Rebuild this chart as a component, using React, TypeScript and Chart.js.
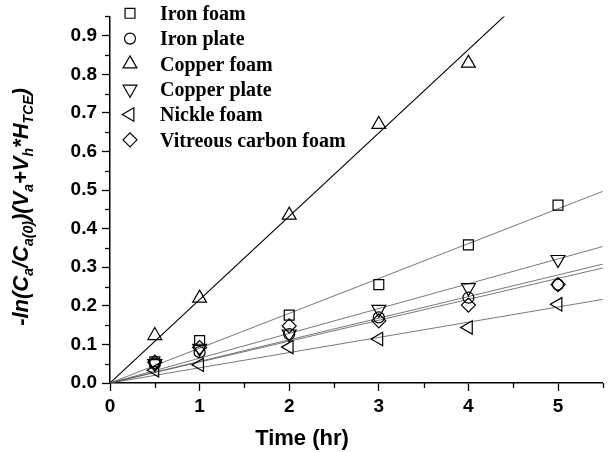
import React, { useEffect, useRef } from 'react';
import { Chart, registerables } from 'chart.js';
import { drawPoint } from 'chart.js/helpers';

Chart.register(...registerables);

// ---------- data ----------
const times = [0.5, 1, 2, 3, 4, 5];
const copperFoamTimes = [0.5, 1, 2, 3, 4];
const seriesNames = ['Iron foam', 'Iron plate', 'Copper foam', 'Copper plate', 'Nickle foam', 'Vitreous carbon foam'];
const ironFoam = [0.055, 0.11, 0.176, 0.255, 0.358, 0.461];
const ironPlate = [0.05, 0.08, 0.127, 0.17, 0.221, 0.255];
const copperFoam = [0.123, 0.22, 0.435, 0.67, 0.829];
const copperPlate = [0.05, 0.09, 0.127, 0.191, 0.247, 0.32];
const nickleFoam = [0.033, 0.047, 0.093, 0.114, 0.144, 0.204];
const vitreousCarbonFoam = [0.054, 0.092, 0.148, 0.161, 0.202, 0.255];
// linear fits through origin (slope per hour)
const fitSlopes = [0.0903, 0.056, 0.216, 0.0643, 0.0394, 0.0542];
const fitRange = [0, 5.5];
const xTickValues = [0, 1, 2, 3, 4, 5];
const xTickLabels = ['0', '1', '2', '3', '4', '5'];
const yTickValues = [0, 0.1, 0.2, 0.3, 0.4, 0.5, 0.6, 0.7, 0.8, 0.9];
const yTickLabels = ['0.0', '0.1', '0.2', '0.3', '0.4', '0.5', '0.6', '0.7', '0.8', '0.9'];
const xMinorTicks = [0.5, 1.5, 2.5, 3.5, 4.5, 5.5];
const yMinorTicks = [0.05, 0.15, 0.25, 0.35, 0.45, 0.55, 0.65, 0.75, 0.85, 0.95];
const xTitle = 'Time (hr)';
const yTitleParts: [string, boolean][] = [
  ['-ln(C', false], ['a', true], ['/C', false], ['a(0)', true], [')(V', false], ['a', true],
  ['+V', false], ['h', true], ['*H', false], ['TCE', true], [')', false],
];

const seriesX = [times, times, copperFoamTimes, times, times, times];
const seriesY = [ironFoam, ironPlate, copperFoam, copperPlate, nickleFoam, vitreousCarbonFoam];

// ---------- styles ----------
const markerStyles = [
  { pointStyle: 'rect', radius: 7, rotation: 0 },
  { pointStyle: 'circle', radius: 5.5, rotation: 0 },
  { pointStyle: 'triangle', radius: 8, rotation: 0 },
  { pointStyle: 'triangle', radius: 8, rotation: 180 },
  { pointStyle: 'triangle', radius: 7.7, rotation: 270 },
  { pointStyle: 'rectRot', radius: 7, rotation: 0 },
];
const fitColors = ['#555', '#555', '#000', '#555', '#555', '#555'];
const fitWidths = [0.8, 0.8, 1.1, 0.8, 0.8, 0.8];
const AXIS_FONT = '"Liberation Sans", Arial, sans-serif';
const LEGEND_FONT = '"Liberation Serif", "Times New Roman", serif';

const decorPlugin = {
  id: 'decor',
  afterDraw(chart: any) {
    const ctx: CanvasRenderingContext2D = chart.ctx;
    const xs = chart.scales.x;
    const ys = chart.scales.y;
    const area = chart.chartArea;
    ctx.save();
    // minor ticks
    ctx.strokeStyle = '#000';
    ctx.lineWidth = 1.3;
    for (const v of yMinorTicks) {
      const py = Math.round(ys.getPixelForValue(v)) + 0.5;
      ctx.beginPath();
      ctx.moveTo(area.left - 5, py);
      ctx.lineTo(area.left, py);
      ctx.stroke();
    }
    for (const v of xMinorTicks) {
      const px = Math.round(xs.getPixelForValue(v)) + 0.5;
      ctx.beginPath();
      ctx.moveTo(px, area.bottom);
      ctx.lineTo(px, area.bottom + 5);
      ctx.stroke();
    }

    // x title
    ctx.fillStyle = '#000';
    ctx.font = `bold 22px ${AXIS_FONT}`;
    ctx.textAlign = 'center';
    ctx.textBaseline = 'alphabetic';
    ctx.fillText(xTitle, 302, 445);

    // y title with subscripts (rotated)
    const bigFont = `italic bold 22px ${AXIS_FONT}`;
    const smallFont = `italic bold 14px ${AXIS_FONT}`;
    let total = 0;
    for (const [t, sub] of yTitleParts) {
      ctx.font = sub ? smallFont : bigFont;
      total += ctx.measureText(t).width;
    }
    ctx.save();
    ctx.translate(28, 207);
    ctx.rotate(-Math.PI / 2);
    ctx.textAlign = 'left';
    let cx = -total / 2;
    for (const [t, sub] of yTitleParts) {
      ctx.font = sub ? smallFont : bigFont;
      ctx.fillText(t, cx, sub ? 5 : 0);
      cx += ctx.measureText(t).width;
    }
    ctx.restore();

    // legend
    for (let i = 0; i < seriesNames.length; i++) {
      const cy = 13.3 + i * 25.3;
      const m = markerStyles[i];
      ctx.strokeStyle = '#000';
      ctx.fillStyle = 'rgba(0,0,0,0)';
      ctx.lineWidth = 1.2;
      drawPoint(ctx, { pointStyle: m.pointStyle as any, radius: m.radius, rotation: m.rotation, borderWidth: 1.2 } as any, 130, cy);
      ctx.fillStyle = '#000';
      ctx.font = `bold 20px ${LEGEND_FONT}`;
      ctx.textAlign = 'left';
      ctx.textBaseline = 'alphabetic';
      ctx.fillText(seriesNames[i], 160, cy + 6.7);
    }
    ctx.restore();
  },
};

export default function App() {
  const ref = useRef<HTMLCanvasElement>(null);
  useEffect(() => {
    const pointSets = seriesNames.map((name, i) => ({
      type: 'scatter' as const,
      label: name,
      data: seriesX[i].map((x, j) => ({ x, y: seriesY[i][j] })),
      pointStyle: markerStyles[i].pointStyle as any,
      pointRadius: markerStyles[i].radius,
      pointRotation: markerStyles[i].rotation,
      pointBorderColor: '#000',
      pointBackgroundColor: 'rgba(0,0,0,0)',
      pointBorderWidth: 1.2,
      showLine: false,
      order: 0,
      clip: false as any,
    }));
    const lineSets = fitSlopes.map((s, i) => ({
      type: 'scatter' as const,
      label: seriesNames[i] + ' fit',
      data: fitRange.map((x) => ({ x, y: s * x })),
      showLine: true,
      borderColor: fitColors[i],
      borderWidth: fitWidths[i],
      pointRadius: 0,
      order: 1,
      clip: 0,
    }));
    const tickFont = { family: AXIS_FONT, size: 19, weight: 'bold' };
    const chart = new Chart(ref.current!, {
      type: 'scatter',
      data: { datasets: [...pointSets, ...lineSets] as any },
      plugins: [decorPlugin],
      options: {
        responsive: false,
        animation: false,
        devicePixelRatio: 1,
        layout: { padding: { top: 12, right: 6, left: 0, bottom: 0 } },
        plugins: { legend: { display: false }, tooltip: { enabled: false } },
        scales: {
          x: {
            type: 'linear',
            min: 0,
            max: 5.5,
            border: { display: true, color: '#000', width: 1.5 },
            grid: {
              display: true,
              drawOnChartArea: false,
              drawTicks: true,
              tickLength: 8,
              tickWidth: 1.3,
              tickColor: '#000',
            },
            afterBuildTicks: (s: any) => { s.ticks = xTickValues.map((value) => ({ value })); },
            ticks: {
              autoSkip: false,
              maxRotation: 0,
              padding: 4,
              color: '#000',
              font: tickFont,
              callback: (_v: any, i: number) => xTickLabels[i] ?? '',
            },
            afterFit: (s: any) => { s.height = 69; },
          },
          y: {
            type: 'linear',
            min: 0,
            max: 0.95,
            border: { display: true, color: '#000', width: 1.5 },
            grid: {
              display: true,
              drawOnChartArea: false,
              drawTicks: true,
              tickLength: 8,
              tickWidth: 1.3,
              tickColor: '#000',
            },
            afterBuildTicks: (s: any) => { s.ticks = yTickValues.map((value) => ({ value })); },
            ticks: {
              autoSkip: false,
              padding: 5,
              color: '#000',
              font: tickFont,
              callback: (_v: any, i: number) => yTickLabels[i] ?? '',
            },
            afterFit: (s: any) => { s.width = 110; },
          },
        },
      } as any,
    });
    return () => chart.destroy();
  }, []);
  return (
    <div style={{ position: 'fixed', left: 0, top: 0, width: 612, height: 452, background: '#fff' }}>
      <canvas ref={ref} width={612} height={452} style={{ width: 612, height: 452, display: 'block' }} />
    </div>
  );
}
